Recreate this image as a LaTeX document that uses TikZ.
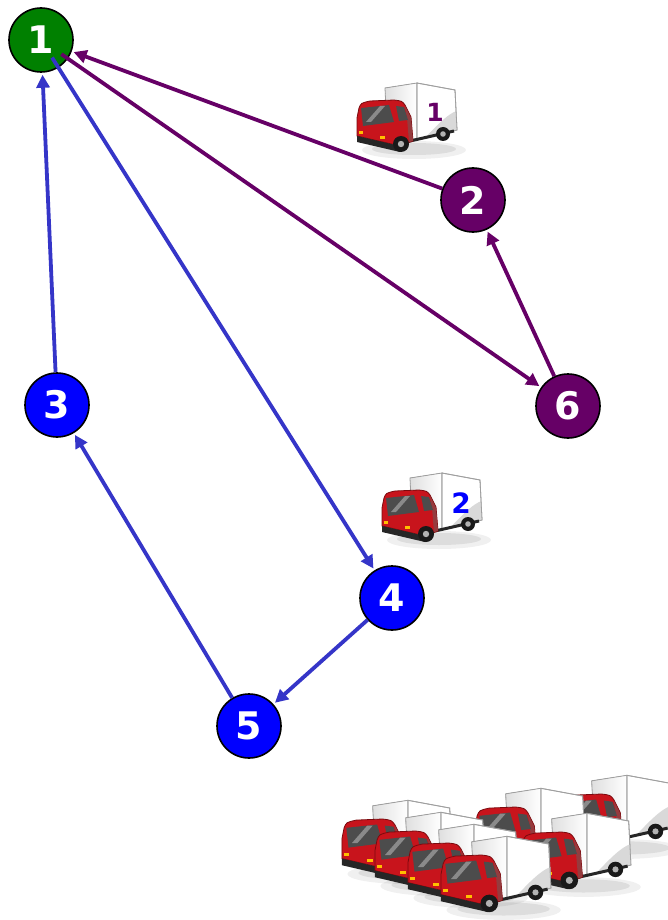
\documentclass[tikz,border=0pt]{standalone}
\usepackage{fontspec}
\setmainfont{DejaVu Sans}
\usetikzlibrary{arrows.meta}

\definecolor{depotgreen}{HTML}{008000}
\definecolor{routepurple}{HTML}{660066}
\definecolor{routeblue}{HTML}{0000FF}
\definecolor{edgeblue}{HTML}{3535C8}
\definecolor{cabred}{HTML}{C8141C}
\definecolor{cabdark}{HTML}{7A0A0E}

\tikzset{
  city/.style={circle, draw=black, line width=1.6pt, minimum size=64pt,
    inner sep=0pt, text=white, font=\fontsize{38}{38}\selectfont\bfseries},
  route/.style={line width=3.8pt, -{Triangle[length=13pt,width=13pt]}},
  purpleroute/.style={route, draw=routepurple},
  blueroute/.style={route, draw=edgeblue},
  tag/.style={font=\fontsize{25}{25}\selectfont\bfseries, inner sep=0pt},
  % delivery truck, cab facing left, drawn from its top-left corner
  pics/truck/.style={code={
    % soft ground shadow
    \fill[black, opacity=0.06] (56,70) ellipse [x radius=52pt, y radius=9pt];
    \fill[black, opacity=0.08] (56,69) ellipse [x radius=42pt, y radius=6pt];
    % cargo box: front and side faces
    \filldraw[draw=gray!75, line width=0.8pt, left color=gray!25, right color=white]
      (27,8) -- (59,3) -- (59,60) -- (29,52) -- cycle;
    \filldraw[draw=gray!75, line width=0.8pt, fill=white]
      (59,3) -- (97,10) -- (99,50) -- (59,60) -- cycle;
    \fill[gray!30] (66,59) .. controls (80,44) and (90,34) .. (98.5,31) -- (99,50) -- cycle;
    \draw[gray!75, line width=0.8pt] (59,3) -- (97,10) -- (99,50) -- (59,60) -- cycle;
    % chassis and rear wheel
    \draw[black!85, line width=3pt] (52,61) -- (96,51);
    \fill[black!90] (85,54) circle [radius=7pt];
    \fill[gray!60] (85,54) circle [radius=2.8pt];
    % cab
    \filldraw[fill=cabred, draw=cabdark, line width=0.8pt]
      (-1,38) -- (1,28) .. controls (3,23) .. (12,21) -- (36,20)
      .. controls (44,21) .. (47,25) -- (53,37) -- (55,61) -- (42,66) -- (-1,56) -- cycle;
    \fill[cabdark!80] (47,26) -- (53,38) -- (55,61) -- (51,62) -- (49,38) -- cycle;
    % windows
    \fill[black!70] (3,28) -- (31,25) -- (36,42) -- (5,46) -- cycle;
    \fill[white, opacity=0.35] (8,42) -- (22,26) -- (27,26) -- (13,42) -- cycle;
    \fill[black!70] (38,26) -- (46,27) -- (50,40) -- (41,41) -- cycle;
    % bumper and headlights
    \fill[black!85] (-1,56) -- (42,66) -- (42,72) -- (-1,62) -- cycle;
    \fill[orange!50!yellow] (1,51) rectangle (5,54);
    \fill[orange!50!yellow] (22,56) rectangle (27,59);
    % front wheel
    \fill[black!90] (43,64) circle [radius=8pt];
    \fill[gray!60] (43,64) circle [radius=3.2pt];
  }},
  fleet/.style={scale=1.1}
}

\begin{document}
\begin{tikzpicture}[x=1pt, y=-1pt]
  \useasboundingbox (0,0) rectangle (668,920);
  \fill[white] (0,0) rectangle (668,920);

  % trucks serving the two routes
  \pic at (358,80) {truck};
  \node[tag, text=routepurple] (tag1) at (435,112) {1};
  \pic at (383,470) {truck};
  \node[tag, text=routeblue, font=\fontsize{28}{28}\selectfont\bfseries] (tag2) at (461,503) {2};

  % fleet parked at the depot
  \pic[fleet] at (562,772) {truck};
  \pic[fleet] at (476,785) {truck};
  \pic[fleet] at (522,810) {truck};
  \pic[fleet] at (343,797) {truck};
  \pic[fleet] at (376,809) {truck};
  \pic[fleet] at (409,821) {truck};
  \pic[fleet] at (442,833) {truck};

  % customers and depot
  \node[city, fill=depotgreen] (n1) at (41,40) {1};
  \node[city, fill=routepurple] (n2) at (473,200) {2};
  \node[city, fill=routeblue] (n3) at (57,405) {3};
  \node[city, fill=routeblue] (n4) at (392,598) {4};
  \node[city, fill=routeblue] (n5) at (249,726) {5};
  \node[city, fill=routepurple] (n6) at (568,406) {6};

  % route 1
  \draw[purpleroute, shorten >=2pt] (n2) -- (n1);
  \draw[purpleroute, shorten <=-8pt, shorten >=2pt] (n1) -- (n6);
  \draw[purpleroute, shorten >=2pt] (n6) -- (n2);

  % route 2
  \draw[blueroute, shorten <=-12pt, shorten >=2pt] (n1) -- (n4);
  \draw[blueroute, shorten >=2pt] (n4) -- (n5);
  \draw[blueroute, shorten >=2pt] (n5) -- (n3);
  \draw[blueroute, shorten >=2pt] (n3) -- (n1);
\end{tikzpicture}
\end{document}
